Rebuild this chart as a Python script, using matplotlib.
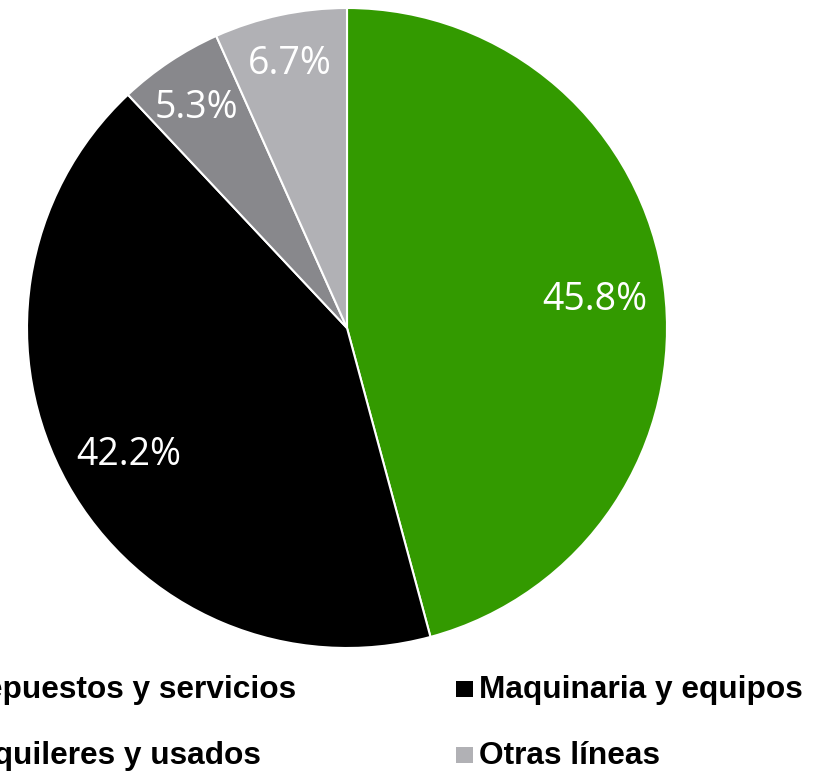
import matplotlib
matplotlib.use('Agg')
import matplotlib.pyplot as plt
from matplotlib.patches import Rectangle
import numpy as np

categories = ['Repuestos y servicios', 'Maquinaria y equipos',
              'Alquileres y usados', 'Otras líneas']
shares = [45.8, 42.2, 5.3, 6.7]
colors = ['#339a00', '#000000', '#88888c', '#b1b1b5']
label_dist = [0.78, 0.78, 0.847, 0.86]

W, H = 820, 775
fig = plt.figure(figsize=(W / 100, H / 100), dpi=100)

# pie: centre (347, 328) px, radius 320 px
cx, cy, r = 347, 328, 320
ax = fig.add_axes([(cx - r) / W, (H - cy - r) / H, 2 * r / W, 2 * r / H])
wedges, texts, pcts = ax.pie(shares, colors=colors, startangle=90, counterclock=False,
                             radius=1, autopct='%1.1f%%', pctdistance=0.78,
                             wedgeprops=dict(edgecolor='white', linewidth=1.5),
                             textprops=dict(color='white', fontsize=27,
                                            family=['Open Sans', 'DejaVu Sans']))
ax.set_xlim(-1, 1)
ax.set_ylim(-1, 1)
ax.axis('off')

# small slices get their labels further out; nudge all down a touch
for w, t, d in zip(wedges, pcts, label_dist):
    ang = np.deg2rad((w.theta1 + w.theta2) / 2)
    t.set_position((d * np.cos(ang), d * np.sin(ang) - 0.016))

# legend drawn by hand (it runs off the left edge in the original)
text_x = [-38, 479]
base_y = [698, 764]
for i, (name, c) in enumerate(zip(categories, colors)):
    col, row = i % 2, i // 2
    x = text_x[col]
    y = base_y[row]
    fig.text(x / W, 1 - y / H, name, ha='left', va='baseline', fontsize=22.8,
             fontweight='bold', family='Liberation Sans', color='black')
    fig.add_artist(Rectangle(((x - 23) / W, 1 - (y - 1) / H), 17 / W, 16 / H,
                             transform=fig.transFigure, color=c, lw=0))

fig.savefig('out.png', dpi=100)
